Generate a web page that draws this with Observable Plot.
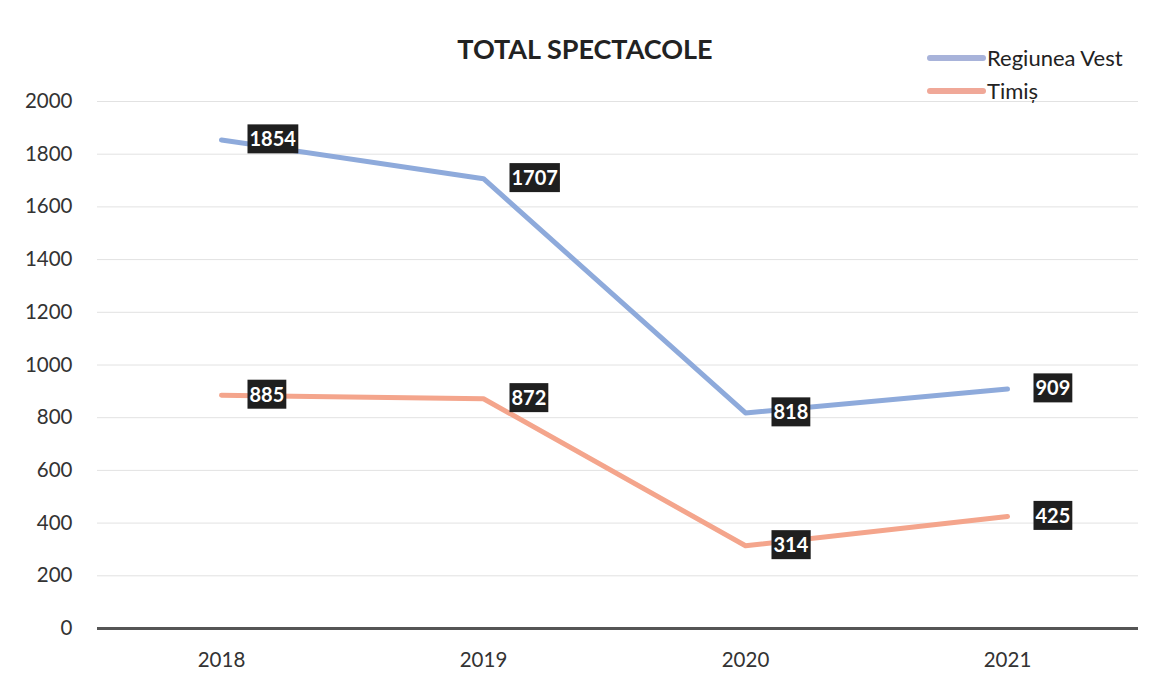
<!DOCTYPE html>
<html>
<head>
<meta charset="utf-8">
<script src="https://cdn.jsdelivr.net/npm/d3@7"></script>
<script src="https://cdn.jsdelivr.net/npm/@observablehq/plot@0.6"></script>
<style>
  html, body { margin: 0; padding: 0; background: #fff; }
  #wrap { position: relative; width: 1158px; height: 677px; font-family: Lato, "Open Sans", sans-serif; }
  #title { position: absolute; top: 32px; left: 0; width: 1170px; text-align: center; font-weight: 700; font-size: 27px; color: #222; letter-spacing: 0px; }
  #legend { position: absolute; top: 41px; left: 927px; font-size: 22px; color: #222; }
  .item { display: flex; align-items: center; height: 33px; }
  .sw { width: 59px; height: 6px; border-radius: 3px; margin-right: 1px; }
  #chart { position: absolute; top: 0; left: 0; }
</style>
</head>
<body>
<div id="wrap">
  <div id="chart"></div>
  <div id="title">TOTAL SPECTACOLE</div>
  <div id="legend"></div>
</div>
<script>
const years = ["2018", "2019", "2020", "2021"];
const seriesNames = ["Regiunea Vest", "Timiș"];
const regiuneaVest = [1854, 1707, 818, 909];
const timis = [885, 872, 314, 425];
const yTicks = [0, 200, 400, 600, 800, 1000, 1200, 1400, 1600, 1800, 2000];
const colors = ["#8eaadb", "#f4a58c"];
const legendColors = ["#a8b3da", "#f0a898"];

const data = [];
years.forEach((y, i) => {
  data.push({year: y, series: seriesNames[0], value: regiuneaVest[i]});
  data.push({year: y, series: seriesNames[1], value: timis[i]});
});

const chart = Plot.plot({
  width: 1158,
  height: 677,
  marginTop: 101,
  marginBottom: 49,
  marginLeft: 90,
  marginRight: 20,
  style: {fontFamily: "Lato, 'Open Sans', sans-serif", fontSize: "20.5px", color: "#333", background: "transparent"},
  x: {type: "point", domain: years, padding: 0.5, label: null, tickSize: 0, tickPadding: 24},
  y: {domain: [0, 2000], ticks: yTicks, tickFormat: "d", label: null, tickSize: 0, tickPadding: 18},
  color: {domain: seriesNames, range: colors},
  marks: [
    Plot.ruleY(yTicks, {stroke: "#e2e2e2", strokeWidth: 1, insetLeft: 7}),
    Plot.ruleY([0], {stroke: "#555", strokeWidth: 3, insetLeft: 7}),
    Plot.line(data, {x: "year", y: "value", z: "series", stroke: "series", strokeWidth: 5, strokeLinejoin: "round", strokeLinecap: "round"}),
    Plot.text(data, {x: "year", y: "value", text: d => String(d.value), textAnchor: "start", dx: 28, fill: "white", fontWeight: 700, fontSize: 20})
  ]
});
document.getElementById("chart").appendChild(chart);

// dark boxes behind the value labels, sized from the rendered text
d3.select(chart).selectAll('g[aria-label="text"] text').each(function() {
  const b = this.getBBox();
  const t = this.getAttribute("transform");
  const r = d3.select(this.parentNode).insert("rect", () => this)
    .attr("x", b.x - 2).attr("y", b.y - 2).attr("width", b.width + 4).attr("height", b.height + 5)
    .attr("fill", "#1f1f1f");
  if (t) r.attr("transform", t);
});

const legend = d3.select("#legend");
seriesNames.forEach((s, i) => {
  const it = legend.append("div").attr("class", "item");
  it.append("div").attr("class", "sw").style("background", legendColors[i]);
  it.append("span").text(s);
});
</script>
</body>
</html>
